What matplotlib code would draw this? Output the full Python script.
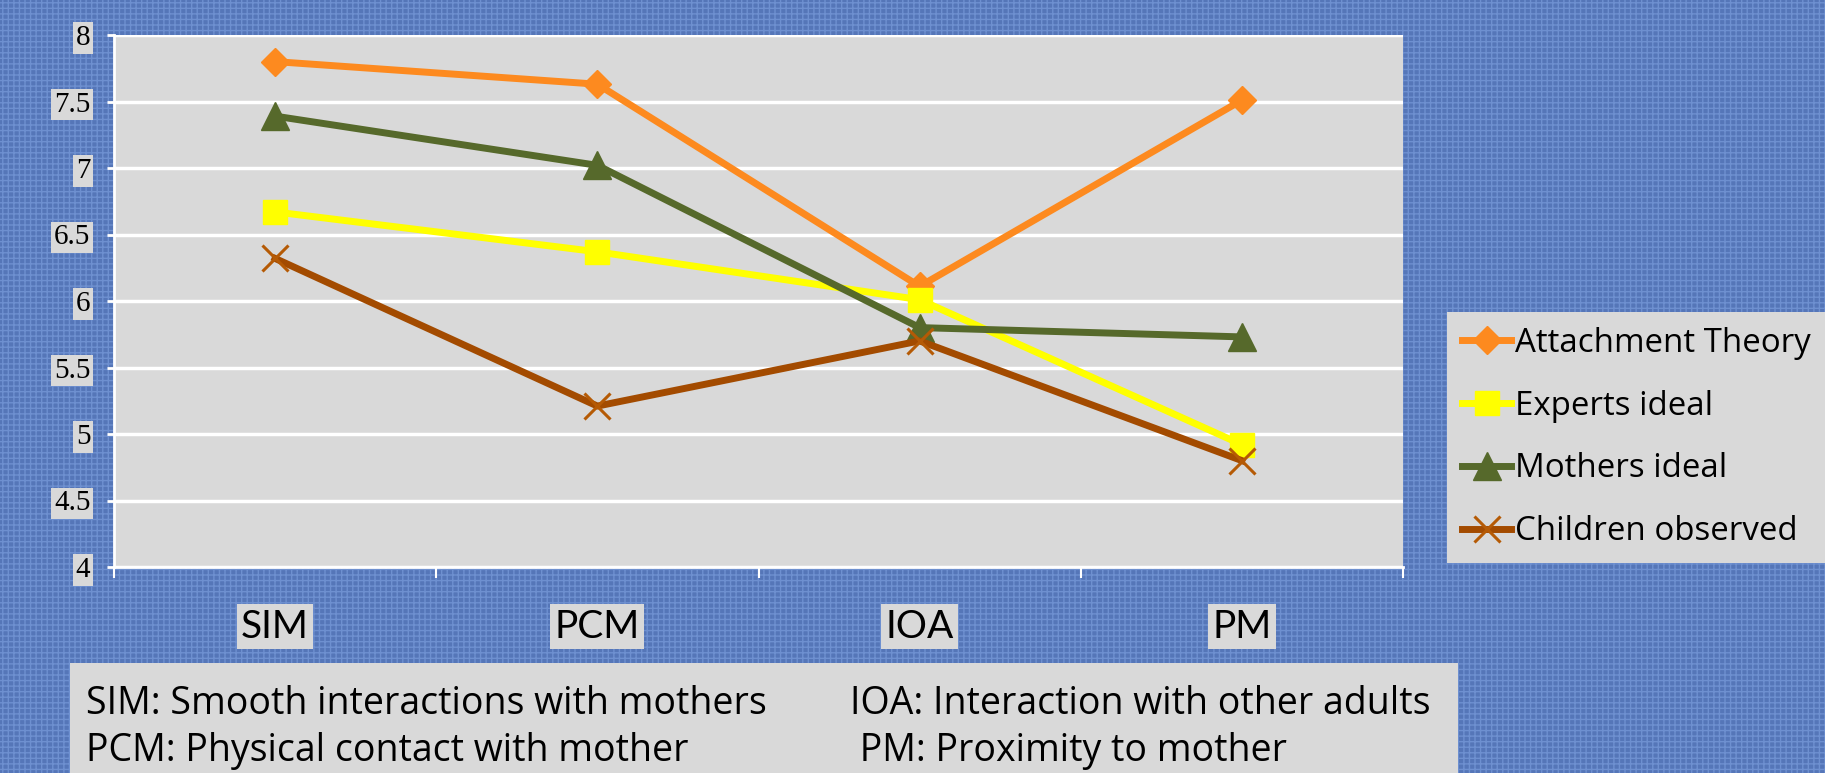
# Attachment behaviour profiles
# Line chart of four series over four behaviour categories

import matplotlib
matplotlib.use("Agg")
import matplotlib.pyplot as plt
from matplotlib.patches import Rectangle

# Data
categories = ["SIM", "PCM", "IOA", "PM"]
attachment_theory = [7.80, 7.63, 6.11, 7.51]
experts_ideal = [6.67, 6.37, 6.01, 4.92]
mothers_ideal = [7.39, 7.02, 5.80, 5.73]
children_observed = [6.32, 5.21, 5.70, 4.80]
yticks = [4, 4.5, 5, 5.5, 6, 6.5, 7, 7.5, 8]
ytick_labels = ["4", "4.5", "5", "5.5", "6", "6.5", "7", "7.5", "8"]
notes_left = ["SIM: Smooth interactions with mothers",
              "PCM: Physical contact with mother"]
notes_right = ["IOA: Interaction with other adults",
               " PM: Proximity to mother"]

W, H = 1825, 773
BLUE = "#5576b8"
PANEL = "#d9d9d9"
SANS = ["Lato", "DejaVu Sans"]
WIDE = ["Open Sans", "DejaVu Sans"]
SERIF = ["Liberation Serif", "DejaVu Serif"]


# Figure with a woven blue background
def init_graph():
    fig = plt.figure(figsize=(W / 100, H / 100), dpi=100, facecolor=BLUE)
    plt.rcParams["hatch.linewidth"] = 1.0
    plt.rcParams["hatch.color"] = "#6e90d0"
    fig.patches.append(Rectangle((0, 0), 1, 1, transform=fig.transFigure,
                                 facecolor=BLUE, edgecolor="#6e90d0",
                                 hatch="+++", lw=0, zorder=-10))
    return fig


# Plot the four series
def plot_lines(ax):
    x = range(len(categories))
    ax.plot(x, attachment_theory, color="#fd8a1f", lw=5, marker="D",
            ms=14, label="Attachment Theory")
    ax.plot(x, experts_ideal, color="#ffff00", lw=5, marker="s",
            ms=17, label="Experts ideal")
    ax.plot(x, mothers_ideal, color="#56692b", lw=5, marker="^",
            ms=20, label="Mothers ideal")
    ax.plot(x, children_observed, color="#a34b00", lw=5, marker="x",
            ms=19, mew=2.2, mec="#b55a05", label="Children observed")


# Axes styling in the look of a spreadsheet chart
def style_axes(ax):
    ax.set_facecolor(PANEL)
    ax.set_xlim(-0.5, len(categories) - 0.5)
    ax.set_ylim(4, 8)
    for side in ["top", "right"]:
        ax.spines[side].set_visible(False)
    for side in ["left", "bottom"]:
        ax.spines[side].set_color("white")
        ax.spines[side].set_linewidth(2)
    ax.set_yticks(yticks)
    ax.set_yticklabels(ytick_labels, family=SERIF, fontsize=21)
    ax.grid(axis="y", color="white", lw=2.5)
    ax.set_axisbelow(True)
    ax.tick_params(axis="y", colors="white", labelcolor="black",
                   length=5, width=2, pad=12)
    ax.set_xticks(range(len(categories)))
    ax.set_xticklabels(categories, family=SANS, fontsize=28)
    ax.set_xticks([i - 0.5 for i in range(len(categories) + 1)], minor=True)
    ax.tick_params(axis="x", which="major", length=0, pad=30)
    ax.tick_params(axis="x", which="minor", colors="white",
                   length=8, width=1.5)
    for lab in ax.get_yticklabels():
        lab.set_bbox(dict(facecolor=PANEL, edgecolor="none", pad=2))
    for lab in ax.get_xticklabels():
        lab.set_bbox(dict(facecolor=PANEL, edgecolor="none", pad=3))


# Legend on the right and the abbreviation notes at the bottom
def add_legend_and_notes(fig, ax):
    leg = ax.legend(loc="upper left",
                    bbox_to_anchor=(1447 / W, 1 - 312 / H),
                    bbox_transform=fig.transFigure, borderaxespad=0,
                    prop={"family": WIDE, "size": 23.8}, facecolor=PANEL,
                    edgecolor="none", framealpha=1, fancybox=False,
                    handlelength=1.5, handletextpad=0.12,
                    labelspacing=0.9, borderpad=0.45)
    leg.get_frame().set_linewidth(0)
    fig.patches.append(Rectangle((70 / W, 0), (1458 - 70) / W, 1 - 663 / H,
                                 transform=fig.transFigure, facecolor=PANEL,
                                 edgecolor="none", zorder=1))
    for i, (left, right) in enumerate(zip(notes_left, notes_right)):
        y = 1 - (704 + 47 * i) / H
        fig.text(86 / W, y, left, family=WIDE, fontsize=27, va="center")
        fig.text(850 / W, y, right, family=WIDE, fontsize=27, va="center")


fig = init_graph()
ax = fig.add_axes([114 / W, 1 - 567 / H, (1403 - 114) / W, (567 - 35) / H])
plot_lines(ax)
style_axes(ax)
add_legend_and_notes(fig, ax)
fig.savefig("out.png", dpi=100, facecolor=fig.get_facecolor())
